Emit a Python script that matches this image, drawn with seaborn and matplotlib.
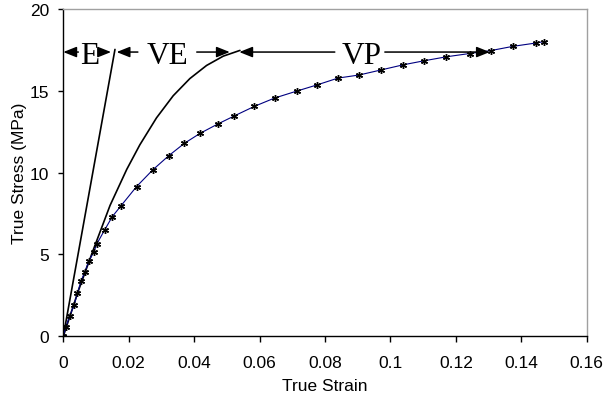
import matplotlib
matplotlib.use("Agg")
import matplotlib.pyplot as plt
import seaborn as sns
import pandas as pd

# ---- data ----
strain_meas = [0.0, 0.0008, 0.0020, 0.0033, 0.0043, 0.0054, 0.0066, 0.0078, 0.0094, 0.0102,
               0.0127, 0.0150, 0.0177, 0.0224, 0.0273, 0.0322, 0.0370, 0.0418, 0.0472, 0.0521,
               0.0584, 0.0646, 0.0713, 0.0777, 0.0840, 0.0905, 0.0970, 0.1039, 0.1104, 0.1171,
               0.1242, 0.1307, 0.1375, 0.1444, 0.1470]
stress_meas = [0.0, 0.59, 1.26, 1.91, 2.63, 3.36, 3.95, 4.60, 5.17, 5.63,
               6.52, 7.32, 7.99, 9.15, 10.16, 11.03, 11.79, 12.40, 12.97, 13.45,
               14.05, 14.56, 14.98, 15.37, 15.78, 15.97, 16.27, 16.59, 16.84, 17.08,
               17.28, 17.46, 17.72, 17.92, 18.01]

strain_E = [0.0, 0.0158]
stress_E = [0.0, 17.53]

strain_VE = [0.0, 0.0045, 0.0092, 0.0143, 0.0194, 0.0234, 0.0285, 0.0336, 0.0387, 0.0438, 0.0489, 0.0540]
stress_VE = [0.0, 2.72, 5.30, 8.00, 10.20, 11.70, 13.35, 14.70, 15.75, 16.55, 17.12, 17.47]

# region labels and arrows (tail x, tip x) at a common height
region_labels = ["E", "VE", "VP"]
region_label_x = [0.0080, 0.0318, 0.0912]
region_label_y = 16.72
arrow_y = 17.37
arrow_tails = [0.0046, 0.0108, 0.0228, 0.0408, 0.0830, 0.0983]
arrow_tips = [0.0, 0.0146, 0.0163, 0.0509, 0.0538, 0.1304]

x_ticks = [0, 0.02, 0.04, 0.06, 0.08, 0.1, 0.12, 0.14, 0.16]
x_tick_labels = ["0", "0.02", "0.04", "0.06", "0.08", "0.1", "0.12", "0.14", "0.16"]
y_ticks = [0, 5, 10, 15, 20]

sns.set_theme(style="white")
plt.rcParams["font.family"] = ["Liberation Sans", "DejaVu Sans"]

fig = plt.figure(figsize=(6.05, 4.02), dpi=100)
ax = fig.add_axes([0.1046, 0.1609, 0.8651, 0.8142])

df_meas = pd.DataFrame({"strain": strain_meas, "stress": stress_meas})
df_E = pd.DataFrame({"strain": strain_E, "stress": stress_E})
df_VE = pd.DataFrame({"strain": strain_VE, "stress": stress_VE})

sns.lineplot(data=df_E, x="strain", y="stress", ax=ax, color="black", lw=1.2,
             estimator=None, sort=False)
sns.lineplot(data=df_VE, x="strain", y="stress", ax=ax, color="black", lw=1.2,
             estimator=None, sort=False, solid_joinstyle="round")
sns.lineplot(data=df_meas, x="strain", y="stress", ax=ax, color="#000080", lw=0.8,
             estimator=None, sort=False, marker=(6, 2, 0), markersize=5,
             markeredgecolor="black", markeredgewidth=1.0)

for tail, tip in zip(arrow_tails, arrow_tips):
    ax.annotate("", xy=(tip, arrow_y), xytext=(tail, arrow_y),
                arrowprops=dict(arrowstyle="-|>,head_length=0.8,head_width=0.32",
                                color="black", lw=1.1, shrinkA=0, shrinkB=0,
                                mutation_scale=10))
for lab, lx in zip(region_labels, region_label_x):
    ax.text(lx, region_label_y, lab, ha="center", va="baseline",
            fontsize=22.5, family=["Liberation Serif", "DejaVu Serif"], color="black")

ax.set_xlim(0, 0.16)
ax.set_ylim(0, 20)
ax.set_xticks(x_ticks)
ax.set_xticklabels(x_tick_labels)
ax.set_yticks(y_ticks)
ax.tick_params(axis="x", direction="out", length=4.3, width=1, color="black",
               pad=9.0, labelsize=12.5, labelcolor="black", bottom=True)
ax.tick_params(axis="y", direction="out", length=3.8, width=1, color="black",
               pad=6.5, labelsize=12.5, labelcolor="black", left=True)
ax.set_xlabel("True Strain", fontsize=12.5, color="black", labelpad=6)
ax.set_ylabel("True Stress (MPa)", fontsize=12.5, color="black", labelpad=2)

for side in ["top", "right"]:
    ax.spines[side].set_color("#a0a0a0")
    ax.spines[side].set_linewidth(1.0)
for side in ["left", "bottom"]:
    ax.spines[side].set_color("black")
    ax.spines[side].set_linewidth(1.0)
ax.grid(False)

fig.savefig("out.png", dpi=100)
